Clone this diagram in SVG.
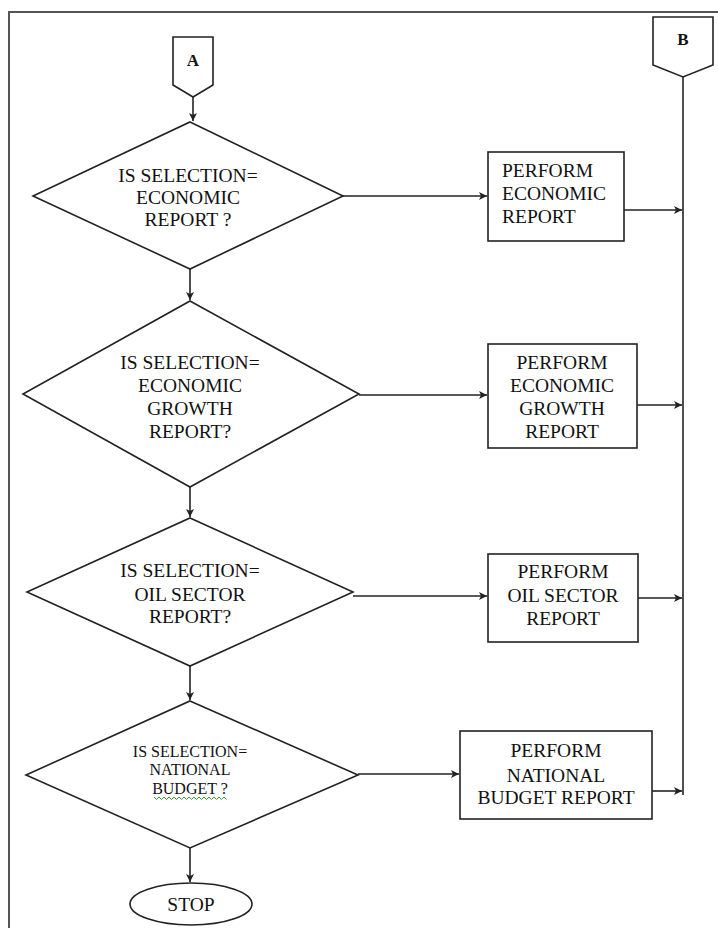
<svg xmlns="http://www.w3.org/2000/svg" width="718" height="928" viewBox="0 0 718 928" font-family="'Liberation Serif', 'DejaVu Serif', serif">
<defs>
<style>
.shape{fill:#fff;stroke:#222;stroke-width:1.6}
.conn{fill:none;stroke:#222;stroke-width:1.6}
.t{font-size:19.5px;fill:#111;text-anchor:middle}
.ts{font-size:16px}
.tl{text-anchor:start}
.lab{font-size:17px;font-weight:bold}
</style>
<marker id="arr" markerUnits="userSpaceOnUse" markerWidth="10" markerHeight="10" refX="8" refY="4" orient="auto">
<path d="M0,0 L8,4 L0,8 L2,4 z" fill="#222"/>
</marker>
</defs>
<rect width="718" height="928" fill="#fff"/>
<path d="M9,928 L9,12 L718,12" fill="none" stroke="#555" stroke-width="2"/>

<g id="connA">
<path class="shape" d="M173,37 L213,37 L213,85 L193,97 L173,85 Z"/>
<text class="t lab" x="193" y="66" font-family="'Liberation Serif', serif">A</text>
</g>
<g id="connB">
<path class="shape" d="M653,17 L713,17 L713,65 L683,77 L653,65 Z"/>
<text class="t lab" x="683" y="45" font-family="'Liberation Serif', serif">B</text>
</g>

<g id="d1" font-family="'Liberation Serif', serif">
<polygon class="shape" points="190,122 343,196 190,269 33,196"/>
<text class="t" x="188" y="182">IS SELECTION=</text>
<text class="t" x="188" y="204">ECONOMIC</text>
<text class="t" x="188" y="226">REPORT ?</text>
</g>
<g id="p1" font-family="'Liberation Serif', serif">
<rect class="shape" x="488" y="152" width="136" height="89"/>
<text class="t tl" x="502" y="177">PERFORM</text>
<text class="t tl" x="502" y="200">ECONOMIC</text>
<text class="t tl" x="502" y="223">REPORT</text>
</g>

<g id="d2" font-family="'Liberation Serif', serif">
<polygon class="shape" points="190,301 359,394 190,487 23,394"/>
<text class="t" x="190" y="369">IS SELECTION=</text>
<text class="t" x="190" y="392">ECONOMIC</text>
<text class="t" x="190" y="415">GROWTH</text>
<text class="t" x="190" y="438">REPORT?</text>
</g>
<g id="p2" font-family="'Liberation Serif', serif">
<rect class="shape" x="488" y="344" width="149" height="104"/>
<text class="t" x="562" y="369">PERFORM</text>
<text class="t" x="562" y="392">ECONOMIC</text>
<text class="t" x="562" y="415">GROWTH</text>
<text class="t" x="562" y="438">REPORT</text>
</g>

<g id="d3" font-family="'Liberation Serif', serif">
<polygon class="shape" points="190,518 353,592 190,666 27,592"/>
<text class="t" x="190" y="577">IS SELECTION=</text>
<text class="t" x="190" y="601">OIL SECTOR</text>
<text class="t" x="190" y="623">REPORT?</text>
</g>
<g id="p3" font-family="'Liberation Serif', serif">
<rect class="shape" x="488" y="554" width="150" height="88"/>
<text class="t" x="563" y="578">PERFORM</text>
<text class="t" x="563" y="602">OIL SECTOR</text>
<text class="t" x="563" y="625">REPORT</text>
</g>

<g id="d4" font-family="'Liberation Serif', serif">
<polygon class="shape" points="190,701 358,775 190,848 26,775"/>
<text class="t ts" x="190" y="757">IS SELECTION=</text>
<text class="t ts" x="190" y="775">NATIONAL</text>
<text class="t ts" x="190" y="794">BUDGET ?</text>
<path d="M154,797 l2.5,2.5 l2.5,-2.5 l2.5,2.5 l2.5,-2.5 l2.5,2.5 l2.5,-2.5 l2.5,2.5 l2.5,-2.5 l2.5,2.5 l2.5,-2.5 l2.5,2.5 l2.5,-2.5 l2.5,2.5 l2.5,-2.5 l2.5,2.5 l2.5,-2.5 l2.5,2.5 l2.5,-2.5 l2.5,2.5 l2.5,-2.5 l2.5,2.5 l2.5,-2.5 l2.5,2.5 l2.5,-2.5 l2.5,2.5 l2.5,-2.5 l2.5,2.5 l2.5,-2.5 l2.5,2.5" fill="none" stroke="#3a9a3a" stroke-width="1"/>
</g>
<g id="p4" font-family="'Liberation Serif', serif">
<rect class="shape" x="460" y="731" width="192" height="88"/>
<text class="t" x="556" y="757">PERFORM</text>
<text class="t" x="556" y="782">NATIONAL</text>
<text class="t" x="556" y="804">BUDGET REPORT</text>
</g>

<g id="stop" font-family="'Liberation Serif', serif">
<ellipse class="shape" cx="191" cy="904" rx="61" ry="21"/>
<text class="t" x="191" y="911">STOP</text>
</g>

<g id="connectors">
<path class="conn" d="M193,97 L193,121" marker-end="url(#arr)"/>
<path class="conn" d="M190,269 L190,300" marker-end="url(#arr)"/>
<path class="conn" d="M190,487 L190,517" marker-end="url(#arr)"/>
<path class="conn" d="M190,666 L190,700" marker-end="url(#arr)"/>
<path class="conn" d="M190,848 L190,882" marker-end="url(#arr)"/>
<path class="conn" d="M343,196 L487,196" marker-end="url(#arr)"/>
<path class="conn" d="M359,395 L487,395" marker-end="url(#arr)"/>
<path class="conn" d="M353,596 L487,596" marker-end="url(#arr)"/>
<path class="conn" d="M358,774 L459,774" marker-end="url(#arr)"/>
<path class="conn" d="M683,77 L683,795"/>
<path class="conn" d="M624,210 L682,210" marker-end="url(#arr)"/>
<path class="conn" d="M637,405 L682,405" marker-end="url(#arr)"/>
<path class="conn" d="M638,598 L682,598" marker-end="url(#arr)"/>
<path class="conn" d="M652,791 L682,791" marker-end="url(#arr)"/>
</g>
</svg>
